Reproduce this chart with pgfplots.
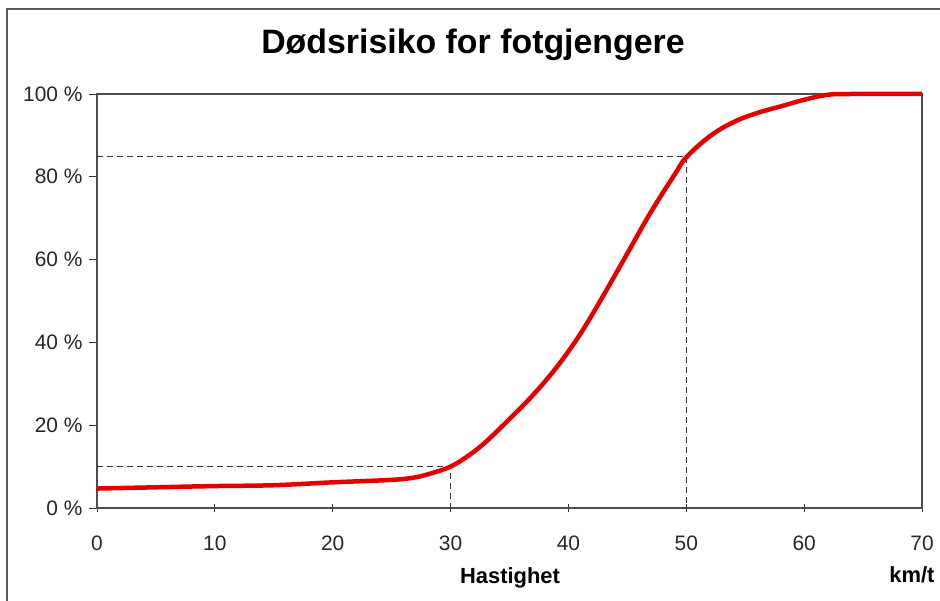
\documentclass[border=0pt]{standalone}
\usepackage{pgfplots}
\pgfplotsset{compat=1.18}
\usepackage{fontspec}
\setmainfont{Liberation Sans}
\begin{document}
\begin{tikzpicture}
\path[use as bounding box] (-97bp,-93bp) rectangle (843bp,508bp);
\draw[gray!70!black, line width=1.3bp] (-90bp,-93bp) -- (-90bp,499bp) -- (843bp,499bp);
\begin{axis}[
  at={(0,0)}, anchor=south west,
  scale only axis, width=825bp, height=414bp,
  xmin=0, xmax=70, ymin=0, ymax=100,
  xtick={0,10,...,70}, ytick={0,20,...,100},
  yticklabels={0 \%,20 \%,40 \%,60 \%,80 \%,100 \%},
  xtick pos=bottom, ytick pos=left,
  axis line style={gray!60!black, line width=1.2bp},
  tick style={black!80, line width=0.9bp},
  ytick align=outside, xtick align=center,
  major tick length=8bp,
  tick label style={font=\fontsize{21}{24}\selectfont, text=black!85},
  yticklabel style={xshift=-3bp},
  xticklabel style={yshift=-20bp},
  /pgf/number format/assume math mode=true,
  clip=false,
]
\addplot[black!80, line width=0.9bp, dash pattern=on 6bp off 4bp] coordinates {(0,10) (30,10) (30,0)};
\addplot[black!80, line width=0.9bp, dash pattern=on 6bp off 4bp] coordinates {(0,85) (50,85) (50,0)};
\addplot[red!90!black, line width=4.5bp, smooth, tension=0.6] coordinates {
(0,4.7) (5,5.0) (10,5.3) (15,5.5) (20,6.2) (25,6.8) (27,7.4) (28.5,8.5) (30,10)
(31.5,12.6) (33,16) (35,21.5) (37,27.3) (39,34) (41,42) (43,51.5) (45,61.5) (47,71.5) (49,80.5)
(50,84.7) (52,89.8) (54,93.2) (56,95.4) (58,97) (60,98.6) (62,99.8) (64,100) (70,100)};
\end{axis}
\node[font=\fontsize{34}{38}\selectfont\bfseries] at (376bp,463bp) {Dødsrisiko for fotgjengere};
\node[font=\fontsize{22}{24}\selectfont\bfseries] at (413bp,-70bp) {Hastighet};
\node[font=\fontsize{22}{24}\selectfont\bfseries] at (815bp,-67bp) {km/t};
\end{tikzpicture}
\end{document}
